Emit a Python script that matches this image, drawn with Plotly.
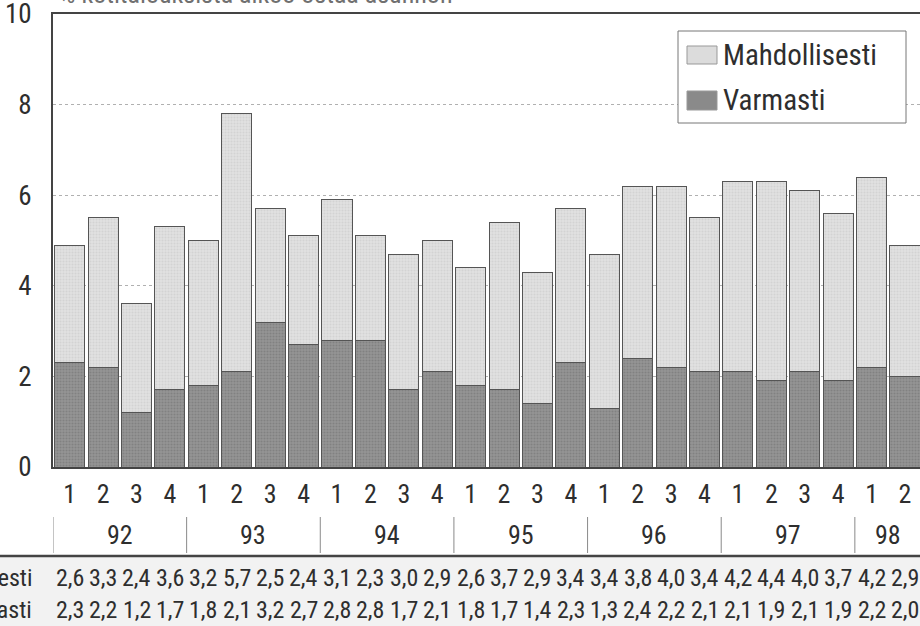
import plotly.graph_objects as go

# %%
quarters = ["1", "2", "3", "4"] * 6 + ["1", "2"]
years = ["92", "93", "94", "95", "96", "97", "98"]
mahdollisesti = [2.6, 3.3, 2.4, 3.6, 3.2, 5.7, 2.5, 2.4, 3.1, 2.3, 3.0, 2.9, 2.6,
                 3.7, 2.9, 3.4, 3.4, 3.8, 4.0, 3.4, 4.2, 4.4, 4.0, 3.7, 4.2, 2.9]
varmasti = [2.3, 2.2, 1.2, 1.7, 1.8, 2.1, 3.2, 2.7, 2.8, 2.8, 1.7, 2.1, 1.8,
            1.7, 1.4, 2.3, 1.3, 2.4, 2.2, 2.1, 2.1, 1.9, 2.1, 1.9, 2.2, 2.0]
title_text = "% kotitalouksista aikoo ostaa asunnon"

FONT = "Roboto Condensed, Liberation Sans Narrow, sans-serif"
TXT = "#2e2e2e"
EDGE = "#555555"

W, H = 920, 626
L, R, T, B = 53, 0, 14, 159
PW, PH = W - L - R, H - T - B


def px_x(px):
    return (px - L) / PW


def px_y(py):
    return (H - B - py) / PH


x = list(range(len(quarters)))

fig = go.Figure()
fig.add_trace(go.Bar(x=x, y=varmasti, name="Varmasti",
                     marker=dict(color="#8e8e8e", line=dict(color=EDGE, width=1),
                                 pattern=dict(shape=".", size=3, solidity=0.4,
                                              fgcolor="#6e6e6e", bgcolor="#959595"))))
fig.add_trace(go.Bar(x=x, y=mahdollisesti, name="Mahdollisesti",
                     marker=dict(color="#dddddd", line=dict(color=EDGE, width=1),
                                 pattern=dict(shape=".", size=3, solidity=0.4,
                                              fgcolor="#c4c4c4", bgcolor="#e2e2e2"))))

annotations = []
shapes = []

# title, mostly cut off by the top edge
annotations.append(dict(text=title_text, xref="paper", yref="paper", x=px_x(57), y=px_y(11),
                        xanchor="left", yanchor="bottom", showarrow=False,
                        font=dict(size=26, color="#707070")))

# year labels and separators
for k, yr in enumerate(years):
    first = 4 * k
    last = min(4 * k + 3, len(quarters) - 1)
    annotations.append(dict(text=yr, xref="x", yref="paper", x=(first + last) / 2, y=px_y(535),
                            xanchor="center", yanchor="middle", showarrow=False,
                            font=dict(size=26, color=TXT)))
    shapes.append(dict(type="line", xref="x", yref="paper", x0=first - 0.5, x1=first - 0.5,
                       y0=px_y(517), y1=px_y(553), line=dict(color="#8a8a8a", width=1)))

# table background and rule
shapes.append(dict(type="rect", xref="paper", yref="paper", x0=px_x(0), x1=1,
                   y0=px_y(626), y1=px_y(557), fillcolor="#f2f2f2", line_width=0, layer="below"))
shapes.append(dict(type="line", xref="paper", yref="paper", x0=px_x(0), x1=1,
                   y0=px_y(556), y1=px_y(556), line=dict(color="#444444", width=2.5)))

# data table rows
for row_name, vals, py in [("Mahdollisesti", mahdollisesti, 578), ("Varmasti", varmasti, 610)]:
    annotations.append(dict(text=row_name, xref="paper", yref="paper", x=px_x(34), y=px_y(py),
                            xanchor="right", yanchor="middle", showarrow=False,
                            font=dict(size=24, color=TXT)))
    for i, v in enumerate(vals):
        annotations.append(dict(text=f"{v:.1f}".replace(".", ","), xref="x", yref="paper",
                                x=i, y=px_y(py), xanchor="center", yanchor="middle",
                                showarrow=False, font=dict(size=24, color=TXT)))

# legend drawn by hand (big swatches)
shapes.append(dict(type="rect", xref="paper", yref="paper", x0=px_x(678), x1=px_x(906),
                   y0=px_y(123), y1=px_y(31), fillcolor="white", line=dict(color="#777777", width=1)))
for name, color, y0, y1 in [("Mahdollisesti", "#dcdcdc", 46, 64), ("Varmasti", "#8a8a8a", 91, 110)]:
    shapes.append(dict(type="rect", xref="paper", yref="paper", x0=px_x(687), x1=px_x(717),
                       y0=px_y(y1), y1=px_y(y0), fillcolor=color, line=dict(color="#999999", width=1)))
    annotations.append(dict(text=name, xref="paper", yref="paper", x=px_x(721), y=px_y((y0 + y1) / 2),
                            xanchor="left", yanchor="middle", showarrow=False,
                            font=dict(size=29, color=TXT)))

fig.update_layout(
    width=W, height=H,
    margin=dict(l=L, r=R, t=T, b=B, autoexpand=False),
    barmode="stack", bargap=0.1,
    showlegend=False,
    plot_bgcolor="white", paper_bgcolor="white",
    font=dict(family=FONT, color=TXT),
    annotations=annotations, shapes=shapes,
)
fig.update_xaxes(range=[-0.5, 25.45], tickvals=x, ticktext=quarters, tickfont=dict(size=26),
                 showline=True, linecolor="#444444", linewidth=2, mirror=True,
                 ticks="", showgrid=False, zeroline=False, ticklabelstandoff=3)
fig.update_yaxes(range=[0, 10], tickvals=[0, 2, 4, 6, 8, 10], tickfont=dict(size=27),
                 showline=True, linecolor="#444444", linewidth=2, ticklabeloverflow="allow",
                 showgrid=True, gridcolor="#b0b0b0", griddash="dot", gridwidth=1,
                 zeroline=False, ticks="", ticklabelstandoff=14)

fig.write_html("out.html", config={"displayModeBar": False},
               post_script="document.body.style.margin='0';")
